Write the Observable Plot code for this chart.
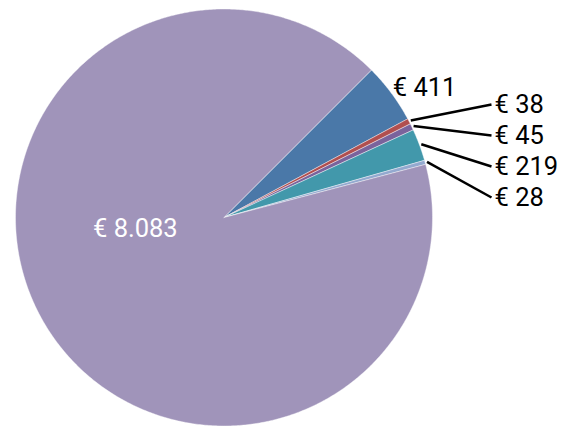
<!DOCTYPE html>
<html>
<head>
<meta charset="utf-8">
<script src="https://cdn.jsdelivr.net/npm/d3@7"></script>
<script src="https://cdn.jsdelivr.net/npm/@observablehq/plot@0.6"></script>
<style>
  html, body { margin: 0; padding: 0; background: #ffffff; }
  #chart svg { display: block; }
</style>
</head>
<body>
<div id="chart"></div>
<script>
// ---- data ----
const categories = ["s1", "s2", "s3", "s4", "s5", "s6"];
const values = [411, 38, 45, 219, 28, 8083];
const labels = ["€ 411", "€ 38", "€ 45", "€ 219", "€ 28", "€ 8.083"];
const colors = ["#4a78a8", "#b14f4f", "#7a639c", "#4298ab", "#93a9cf", "#a094ba"];

// ---- layout ----
const W = 570, H = 428;
const cx = 223.5, cy = 217, R = 208.5;
const start = Math.PI / 4;

const arcs = d3.pie().sort(null).startAngle(start).endAngle(start + 2 * Math.PI)(values);
const pt = (a, r) => [cx + r * Math.sin(a), cy - r * Math.cos(a)];

// slice outlines
const poly = [];
arcs.forEach((a, i) => {
  const n = Math.max(2, Math.ceil((a.endAngle - a.startAngle) / (Math.PI / 360)));
  poly.push({cat: categories[i], x: cx, y: cy});
  for (let k = 0; k <= n; k++) {
    const t = a.startAngle + (a.endAngle - a.startAngle) * k / n;
    const [x, y] = pt(t, R);
    poly.push({cat: categories[i], x, y});
  }
  poly.push({cat: categories[i], x: cx, y: cy});
});

// labels
const outside = [];
const leaders = [];
arcs.forEach((a, i) => {
  const mid = (a.startAngle + a.endAngle) / 2;
  if (i === 0) {
    const [x, y] = pt(mid, R + 3);
    outside.push({x: x - 1, y: y - 4, text: labels[i], fill: "#000"});
  } else if (i < arcs.length - 1) {
    const ly = 104 + (i - 1) * 31;
    const [x1, y1] = pt(mid, R + 2);
    leaders.push({x1, y1, x2: 491, y2: ly});
    outside.push({x: 494, y: ly, text: labels[i], fill: "#000"});
  } else {
    outside.push({x: cx - 131, y: cy + 11, text: labels[i], fill: "#ffffff"});
  }
});

const chart = Plot.plot({
  width: W,
  height: H,
  margin: 0,
  x: {domain: [0, W], range: [0, W], axis: null},
  y: {domain: [0, H], range: [0, H], axis: null},
  color: {domain: categories, range: colors},
  style: {fontFamily: "Roboto, sans-serif", background: "#ffffff"},
  marks: [
    Plot.line(poly, {x: "x", y: "y", z: "cat", fill: "cat", stroke: "#ffffff", strokeWidth: 0.6, strokeOpacity: 0.7}),
    Plot.link(leaders, {x1: "x1", y1: "y1", x2: "x2", y2: "y2", stroke: "#000", strokeWidth: 2.5}),
    Plot.text(outside, {x: "x", y: "y", text: "text", fill: d => d.fill, textAnchor: "start", fontSize: 25.5})
  ]
});
document.getElementById("chart").appendChild(chart);
</script>
</body>
</html>
